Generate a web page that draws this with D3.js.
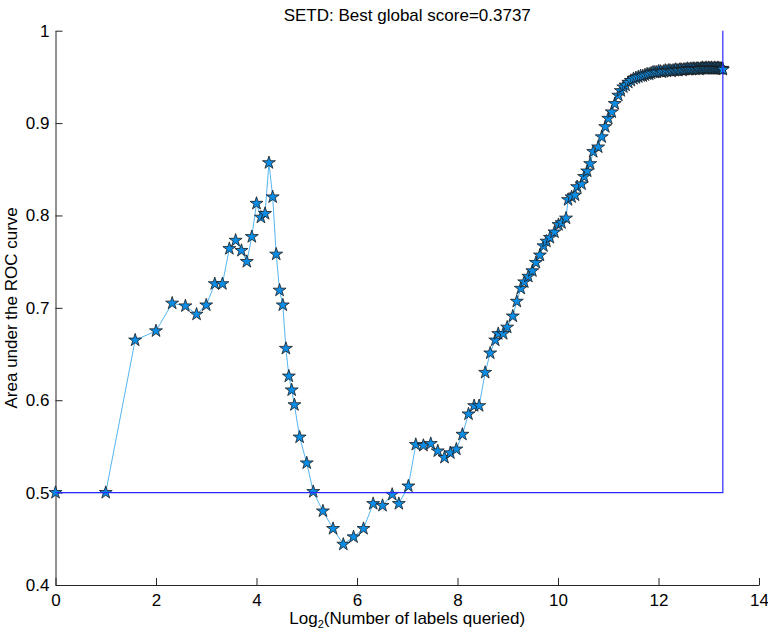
<!DOCTYPE html>
<html>
<head>
<meta charset="utf-8">
<script src="https://cdn.jsdelivr.net/npm/d3@7"></script>
<style>
  html, body { margin: 0; padding: 0; background: #fff; }
  svg { display: block; }
  text { font-family: "Liberation Sans", Arial, Helvetica, sans-serif; }
</style>
</head>
<body>
<svg id="chart" width="768" height="631"></svg>
<script>
// ---- data ----
const titleText = "SETD: Best global score=0.3737";
const xTicks = [0, 2, 4, 6, 8, 10, 12, 14];
const yTicks = [0.4, 0.5, 0.6, 0.7, 0.8, 0.9, 1];
const yTickLabels = ["0.4", "0.5", "0.6", "0.7", "0.8", "0.9", "1"];

// number of labels queried at each step
const labels = [
  1, 2, 3, 4, 5, 6, 7, 8, 9, 10, 11, 12, 13, 14, 15, 16, 17, 18, 19, 20,
  21, 22, 23, 24, 25, 26, 27, 29, 32, 35, 40, 46, 53, 61, 70, 80, 91, 104, 114, 130,
  144, 160, 177, 195, 214, 232, 252, 274, 298, 322, 345, 375, 402, 431, 449, 481, 508, 549, 580, 613,
  643, 680, 719, 755, 798, 838, 873, 916, 975, 1031, 1075, 1144, 1176, 1235, 1296, 1333, 1418, 1468, 1531, 1596,
  1664, 1783, 1872, 1965, 2048, 2150, 2241, 2353, 2435, 2521,
  2600, 2700, 2800, 2900, 3000, 3100, 3200, 3300, 3400, 3500, 3600, 3700, 3800, 3900, 4000,
  4100, 4200, 4300, 4400, 4500, 4600, 4700, 4800, 4900, 5000, 5100, 5200, 5300, 5400, 5500,
  5600, 5700, 5800, 5900, 6000, 6100, 6200, 6300, 6400, 6500, 6600, 6700, 6800, 6900, 7000,
  7100, 7200, 7300, 7400, 7500, 7600, 7700, 7800, 7900, 8000, 8100, 8200, 8300, 8400, 8500,
  8600, 8700, 8800, 8900, 9000, 9100, 9200, 9300, 9400, 9500, 9600, 9700, 9800, 9900, 9950
];

// area under the ROC curve at each step
const auc = [
  0.500, 0.500, 0.665, 0.675, 0.705, 0.702, 0.693, 0.703, 0.726, 0.726, 0.764, 0.773, 0.762, 0.750, 0.777, 0.813, 0.798, 0.802, 0.857, 0.820,
  0.758, 0.719, 0.703, 0.656, 0.626, 0.611, 0.595, 0.560, 0.532, 0.501, 0.480, 0.461, 0.444, 0.452, 0.461, 0.488, 0.486, 0.498, 0.488, 0.507,
  0.552, 0.551, 0.553, 0.545, 0.538, 0.543, 0.547, 0.563, 0.585, 0.594, 0.594, 0.630, 0.651, 0.665, 0.672, 0.672, 0.679, 0.691, 0.707, 0.721,
  0.728, 0.734, 0.740, 0.749, 0.757, 0.767, 0.772, 0.776, 0.782, 0.790, 0.792, 0.797, 0.817, 0.820, 0.822, 0.831, 0.834, 0.842, 0.848, 0.856,
  0.869, 0.874, 0.885, 0.896, 0.905, 0.912, 0.921, 0.930, 0.935, 0.939,
  0.941, 0.944, 0.946, 0.948, 0.949, 0.950, 0.951, 0.951, 0.952, 0.953, 0.953, 0.954, 0.955, 0.955, 0.955,
  0.956, 0.956, 0.955, 0.956, 0.957, 0.956, 0.957, 0.957, 0.956, 0.957, 0.957, 0.958, 0.957, 0.957, 0.958,
  0.958, 0.957, 0.958, 0.958, 0.958, 0.959, 0.958, 0.958, 0.959, 0.958, 0.959, 0.959, 0.958, 0.959, 0.959,
  0.959, 0.958, 0.959, 0.959, 0.960, 0.959, 0.959, 0.959, 0.960, 0.959, 0.959, 0.960, 0.959, 0.959, 0.960,
  0.959, 0.959, 0.959, 0.960, 0.959, 0.959, 0.959, 0.960, 0.959, 0.959, 0.959, 0.959, 0.959, 0.959, 0.958
];

// chance-level reference box (AUC 0.5 up to the total number of labels)
const chanceLevel = 0.5;
const topLevel = 1;

// ---- drawing ----
const svg = d3.select("#chart");
const x = d3.scaleLinear().domain([0, 14]).range([55.5, 759]);
const y = d3.scaleLinear().domain([0.4, 1]).range([585, 30.7]);

const points = labels.map((n, i) => ({ x: Math.log2(n), y: auc[i] }));

const FS = 17;

// axes
const xAxis = d3.axisBottom(x).tickValues(xTicks).tickFormat(d3.format("d"))
  .tickSizeInner(-7).tickSizeOuter(0).tickPadding(9);
const gx = svg.append("g").attr("transform", `translate(0,${y(0.4)})`).call(xAxis);

const yAxis = d3.axisLeft(y).tickValues(yTicks).tickFormat((d, i) => yTickLabels[i])
  .tickSizeInner(-7).tickSizeOuter(0).tickPadding(6);
const gy = svg.append("g").attr("transform", `translate(${x(0)},0)`).call(yAxis);

[gx, gy].forEach(g => {
  g.select(".domain").attr("stroke", "#262626").attr("stroke-width", 1);
  g.selectAll(".tick line").attr("stroke", "#262626").attr("stroke-width", 1);
  g.selectAll(".tick text").attr("fill", "#000").attr("font-size", FS)
    .attr("font-family", '"Liberation Sans", Arial, Helvetica, sans-serif');
});

// title
svg.append("text").attr("x", (x(0) + x(14)) / 2).attr("y", 20.5)
  .attr("text-anchor", "middle").attr("font-size", FS).attr("fill", "#000")
  .text(titleText);

// x label with subscript
const xl = svg.append("text").attr("x", (x(0) + x(14)) / 2).attr("y", 624)
  .attr("text-anchor", "middle").attr("font-size", FS).attr("fill", "#000");
xl.append("tspan").text("Log");
xl.append("tspan").attr("font-size", 11).attr("dy", 3.5).text("2");
xl.append("tspan").attr("dy", -3.5).text("(Number of labels queried)");

// y label
svg.append("text").attr("transform", `translate(17,${(y(0.4) + y(1)) / 2}) rotate(-90)`)
  .attr("text-anchor", "middle").attr("font-size", FS).attr("fill", "#000")
  .text("Area under the ROC curve");

// data line
const line = d3.line().x(d => x(d.x)).y(d => y(d.y));
svg.append("path").datum(points).attr("d", line)
  .attr("fill", "none").attr("stroke", "#55b6f2").attr("stroke-width", 1);

// star markers
const star = d3.symbol().type(d3.symbolStar).size(52);
svg.append("g").selectAll("path.star").data(points).join("path")
  .attr("class", "star")
  .attr("transform", d => `translate(${x(d.x)},${y(d.y)})`)
  .attr("d", star)
  .attr("fill", "#0b8de6").attr("stroke", "#1a1a1a").attr("stroke-width", 0.8);

// chance-level box
const xEnd = Math.log2(labels[labels.length - 1]);
svg.append("path")
  .datum([[0, chanceLevel], [xEnd, chanceLevel], [xEnd, topLevel]])
  .attr("d", d3.line().x(d => x(d[0])).y(d => y(d[1])))
  .attr("fill", "none").attr("stroke", "#2a2aff").attr("stroke-width", 1.2);
</script>
</body>
</html>
